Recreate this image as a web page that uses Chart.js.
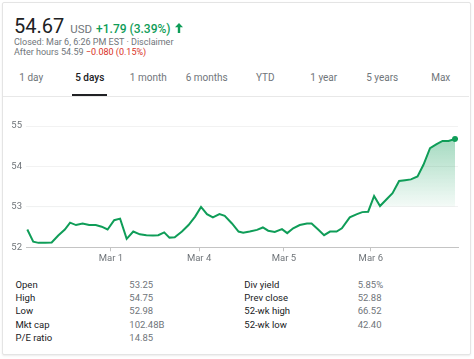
<!DOCTYPE html>
<html>
<head>
<meta charset="utf-8">
<script src="https://cdn.jsdelivr.net/npm/chart.js@4"></script>
<style>
  html,body{margin:0;padding:0;background:#fff;}
  body{width:474px;height:359px;position:relative;overflow:hidden;font-family:Roboto,Arial,sans-serif;}
  .card{position:absolute;left:2px;top:2px;width:467px;height:351px;border:1px solid #e4e4e4;box-shadow:0 1px 2px rgba(0,0,0,0.08);border-radius:2px;background:#fff;}
  .abs{position:absolute;white-space:nowrap;line-height:1;}
  .grey{color:#70757a;}
  .tab{position:absolute;top:72.6px;width:58.5px;text-align:center;font-size:10px;line-height:1;color:#70757a;}
  .tab.sel{color:#202124;font-weight:500;}
  .lab{position:absolute;font-size:9.5px;line-height:1;color:#202124;}
  .val{position:absolute;font-size:9.5px;line-height:1;color:#70757a;}
</style>
</head>
<body>
<div class="card"></div>
<div class="abs" style="left:14px;top:15.9px;font-size:20px;color:#202124;">54.67<span class="grey" style="font-size:11.5px;margin-left:6px;">USD</span><span style="font-size:12px;margin-left:4px;color:#0f9d58;font-weight:500;">+1.79 (3.39%)</span><svg style="margin-left:4px" width="8" height="10" viewBox="0 0 8 10"><path d="M4 0 L8 4.2 L5.2 4.2 L5.2 10 L2.8 10 L2.8 4.2 L0 4.2 Z" fill="#0f9d58"/></svg></div>
<div class="abs grey" style="left:14px;top:38.4px;font-size:9px;">Closed: Mar 6, 6:26 PM EST · Disclaimer</div>
<div class="abs grey" style="left:14px;top:47.7px;font-size:9px;">After hours 54.59 <span style="color:#d93025;">−0.080 (0.15%)</span></div>

<div id="tabs"></div>
<div style="position:absolute;left:3px;top:95.5px;width:466px;height:1px;background:#e8e8e8;"></div>
<div style="position:absolute;left:72px;top:94px;width:35px;height:2.2px;background:#202124;"></div>

<div style="position:absolute;left:0;top:100px;width:474px;height:170px;">
  <canvas id="c" width="474" height="170" style="width:474px;height:170px;"></canvas>
</div>

<div id="stats"></div>

<script>
// ---- data ----
const tabNames = ['1 day','5 days','1 month','6 months','YTD','1 year','5 years','Max'];
const selectedTab = '5 days';

// time axis in 30-minute trading intervals from the first point
const tickPos = [12.7, 26.1, 39.0, 52.2];
const tickLabels = ['Mar 1','Mar 4','Mar 5','Mar 6'];

const times = [0,0.9,1.7,2.7,3.7,4.7,5.7,6.5,7.4,8.4,9.4,10.4,11.3,12.2,13.2,14.1,15.1,16.1,17.1,18.1,19.1,19.9,20.8,21.6,22.4,23.5,24.5,25.5,26.4,27.3,28.2,29.2,30.0,31.1,32.1,32.8,33.8,34.9,35.8,36.6,37.6,38.7,39.5,40.4,41.4,42.5,43.2,44.2,45.1,46.0,47.0,47.8,49.0,50.1,50.9,51.8,52.7,53.6,54.6,55.5,56.5,57.4,58.3,59.3,60.2,61.2,62.2,63.1,64.0,65.0];
const prices = [52.44,52.14,52.11,52.11,52.12,52.29,52.44,52.61,52.55,52.59,52.55,52.55,52.51,52.44,52.67,52.71,52.21,52.39,52.32,52.30,52.29,52.30,52.37,52.24,52.25,52.39,52.55,52.76,53.00,52.82,52.74,52.82,52.78,52.59,52.39,52.36,52.39,52.43,52.49,52.41,52.38,52.45,52.35,52.47,52.55,52.59,52.59,52.44,52.30,52.39,52.39,52.47,52.74,52.82,52.87,52.88,53.27,53.02,53.19,53.34,53.64,53.66,53.68,53.75,54.04,54.45,54.55,54.63,54.63,54.68];

const yMin = 52, yMax = 55, prevBase = 53;

const statLabelsL = ['Open','High','Low','Mkt cap','P/E ratio'];
const statValuesL = ['53.25','54.75','52.98','102.48B','14.85'];
const statLabelsR = ['Div yield','Prev close','52-wk high','52-wk low'];
const statValuesR = ['5.85%','52.88','66.52','42.40'];

// ---- tabs ----
const tabsEl = document.getElementById('tabs');
tabNames.forEach((t,i)=>{
  const d = document.createElement('div');
  d.className = 'tab' + (t===selectedTab?' sel':'');
  d.style.left = (2 + i*58.5) + 'px';
  d.textContent = t;
  tabsEl.appendChild(d);
});

// ---- stats ----
const statsEl = document.getElementById('stats');
function addStat(cls, x, row, txt){
  const d = document.createElement('div');
  d.className = cls;
  d.style.left = x + 'px';
  d.style.top = (279.7 + row*13.3) + 'px';
  d.textContent = txt;
  statsEl.appendChild(d);
}
statLabelsL.forEach((t,i)=>{ addStat('lab',15.5,i,t); addStat('val',129.3,i,statValuesL[i]); });
statLabelsR.forEach((t,i)=>{ addStat('lab',244.3,i,t); addStat('val',357.7,i,statValuesR[i]); });

// ---- chart ----
const green = '#0f9d58';
const last = prices.length - 1;
new Chart(document.getElementById('c'), {
  type: 'line',
  data: {
    datasets: [{
      data: times.map((t,i)=>({x:t, y:prices[i]})),
      borderColor: green,
      borderWidth: 2,
      tension: 0,
      pointRadius: ctx => ctx.dataIndex === last ? 3 : 0,
      pointBackgroundColor: green,
      pointBorderWidth: 0,
      pointHoverRadius: 0,
      fill: {value: prevBase},
      backgroundColor: ctx => {
        const ch = ctx.chart;
        if (!ch.chartArea) return 'rgba(0,0,0,0)';
        const y = ch.scales.y;
        const top = y.getPixelForValue(54.9);
        const bot = y.getPixelForValue(prevBase);
        const g = ch.ctx.createLinearGradient(0, top, 0, bot + 1);
        g.addColorStop(0, 'rgba(15,157,88,0.42)');
        g.addColorStop(0.97, 'rgba(15,157,88,0.05)');
        g.addColorStop(1, 'rgba(15,157,88,0)');
        return g;
      }
    }]
  },
  options: {
    responsive: false,
    animation: false,
    devicePixelRatio: 1,
    layout: {padding: {top: 26, right: 16, left: 0, bottom: 0}},
    plugins: {legend: {display: false}, tooltip: {enabled: false}},
    events: [],
    scales: {
      x: {
        type: 'linear',
        min: -0.2,
        max: 65.45,
        afterBuildTicks: ax => { ax.ticks = tickPos.map(v => ({value: v})); },
        afterFit: s => { s.height = 22.7; },
        ticks: {
          callback: (v, i) => tickLabels[i],
          color: '#70757a',
          font: {family: 'Roboto', size: 9.5},
          padding: 2,
          maxRotation: 0,
          autoSkip: false
        },
        grid: {drawOnChartArea: false, drawTicks: true, tickLength: 4, color: '#c4c4c4'},
        border: {display: true, color: '#c4c4c4', width: 1}
      },
      y: {
        min: yMin,
        max: yMax,
        afterFit: s => { s.width = 26; },
        ticks: {
          stepSize: 1,
          color: '#70757a',
          font: {family: 'Roboto', size: 9.5},
          padding: 4
        },
        grid: {drawTicks: false, color: '#f2f2f2'},
        border: {display: false}
      }
    }
  }
});
</script>
</body>
</html>
